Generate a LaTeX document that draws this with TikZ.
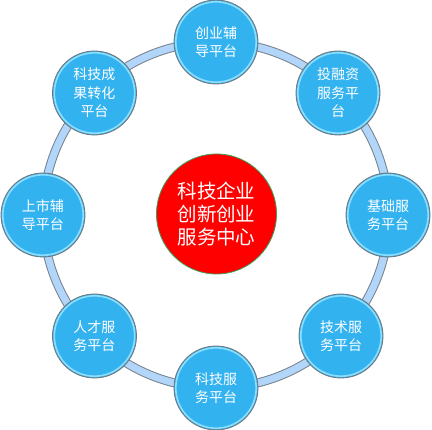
\documentclass[tikz,border=0pt]{standalone}
\usepackage{fontspec}
\newfontfamily\cjk{Noto Sans CJK SC}
\definecolor{satblue}{RGB}{51,178,240}
\definecolor{rimcyan}{RGB}{140,222,255}
\definecolor{bandblue}{RGB}{178,214,250}
\definecolor{bandedge}{RGB}{120,130,140}
\definecolor{rimgreen}{RGB}{60,160,90}
\tikzset{
  sat/.style={circle, minimum size=84pt, inner sep=0pt, fill=satblue, draw=gray!90!black, line width=0.8pt,
    text=white, font=\cjk\fontsize{14}{18.5}\selectfont, align=center,
    path picture={\draw[rimcyan, line width=1.6pt] (path picture bounding box.center) circle (40.2pt);}},
  hub/.style={circle, minimum size=120pt, inner sep=0pt, fill=red, draw=rimgreen, line width=0.8pt,
    text=white, font=\cjk\fontsize{19.5}{23}\selectfont, align=center}
}
\begin{document}
\begin{tikzpicture}[x=1pt,y=-1pt]
\useasboundingbox (0,0) rectangle (432,430);
\coordinate (c) at (216,215);
\draw[bandedge, line width=9pt] (c) circle (173);
\draw[bandblue, line width=7pt] (c) circle (173);
\node[hub] (center) at (216.5,214) {科技企业\\创新创业\\服务中心};
\node[sat] (s1) at (216,42) {创业辅\\导平台};
\node[sat] (s2) at (338,93) {投融资\\服务平\\台};
\node[sat] (s3) at (388,215) {基础服\\务平台};
\node[sat] (s4) at (341,336) {技术服\\务平台};
\node[sat] (s5) at (216,388) {科技服\\务平台};
\node[sat] (s6) at (94.5,336) {人才服\\务平台};
\node[sat] (s7) at (43,215) {上市辅\\导平台};
\node[sat] (s8) at (94.5,93) {科技成\\果转化\\平台};
\end{tikzpicture}
\end{document}
